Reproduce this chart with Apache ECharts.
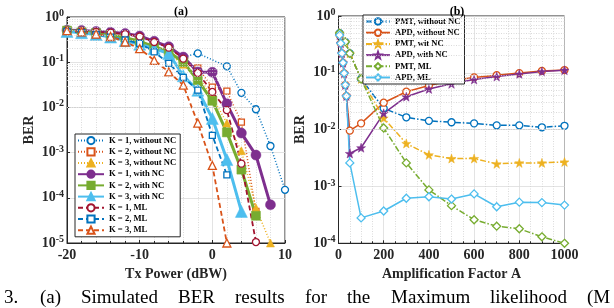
<!DOCTYPE html>
<html>
<head>
<meta charset="utf-8">
<script src="https://cdn.jsdelivr.net/npm/echarts@6/dist/echarts.min.js"></script>
<style>
html,body{margin:0;padding:0;background:#fff;}
#c{width:614px;height:308px;}
</style>
</head>
<body>
<div id="c"></div>
<script>
// ---------- DATA: panel (a) ----------
const txPower = [-20,-18,-16,-14,-12,-10,-8,-6,-4,-2,0,2,4,6,8,10];
const k1WithoutNC = [0.51,0.50,0.48,0.46,0.43,0.38,0.29,0.22,0.13,0.157,null,0.081,0.021,0.0091,0.0014,0.00015];
const k2WithoutNC = [0.50,0.47,0.44,0.40,0.35,0.29,0.22,0.17,0.10,0.075,0.028,0.023,0.0047,0.00005,null,null];
const k3WithoutNC = [0.49,0.46,0.42,0.38,0.32,0.26,0.20,0.15,0.09,0.05,0.017,0.0045,0.0011,0.00006,0.00001,null];
const k1WithNC = [0.51,0.50,0.48,0.46,0.43,0.38,0.29,0.22,0.13,0.061,0.060,0.012,0.0027,0.00088,0.00007,null];
const k2WithNC = [0.50,0.47,0.44,0.40,0.35,0.29,0.22,0.17,0.10,0.04,0.014,0.0028,0.00042,0.00004,null,null];
const k3WithNC = [0.48,0.45,0.41,0.36,0.30,0.25,0.20,0.156,0.05,0.024,0.0057,0.0007,0.00005,null,null,null];
const k1ML = [0.50,0.49,0.47,0.45,0.42,0.37,0.28,0.21,0.12,0.058,0.022,0.0087,0.00057,0.0000105,null,null];
const k2ML = [0.48,0.45,0.41,0.36,0.31,0.26,0.17,0.094,0.046,0.024,0.0024,0.00032,null,null,null,null];
const k3ML = [0.50,0.47,0.42,0.37,0.28,0.20,0.11,0.061,0.031,0.0045,0.00052,0.00001,null,null,null,null];
const namesA = ['K = 1, without NC','K = 2, without NC','K = 3, without NC','K = 1, with NC','K = 2, with NC','K = 3, with NC','K = 1, ML','K = 2, ML','K = 3, ML'];

// ---------- DATA: panel (b) ----------
const ampPMT = [5,30,50,100,200,300,400,500,600,700,800,900,1000];
const pmtWithoutNC = [0.50,0.35,0.22,0.078,0.0237,0.0165,0.0143,0.0135,0.0129,0.0119,0.0119,0.011,0.0117];
const pmtWithNC = [0.50,0.35,0.22,0.078,0.016,0.0057,0.0036,0.0031,0.0031,0.0025,0.0026,0.0026,0.0027];
const pmtML = [0.50,0.35,0.22,0.078,0.0107,0.0026,0.00087,0.00046,0.00026,0.0002,0.00018,0.00013,0.0001];
const ampAPD = [5,10,15,20,25,30,35,50,100,200,300,400,500,600,700,800,900,1000];
const apdWithoutNC = [0.46,0.33,0.22,0.15,0.098,0.061,0.039,0.0096,0.0129,0.0298,0.0465,0.06,0.073,0.083,0.091,0.099,0.108,0.112];
const apdWithNC = [0.46,0.33,0.22,0.15,0.098,0.061,0.039,0.0038,0.0048,0.0194,0.038,0.052,0.064,0.076,0.086,0.095,0.105,0.111];
const apdML = [0.46,0.33,0.22,0.15,0.098,0.061,0.039,0.0026,0.00028,0.00037,0.00062,0.00066,0.0006,0.00074,0.00044,0.00053,0.00052,0.00047];
const namesB = ['PMT, without NC','APD, without NC','PMT, wit NC','APD, with NC','PMT, ML','APD, ML'];

// ---------- helpers ----------
const C = {blue:'#0072BD', orange:'#D95319', yellow:'#EDB120', purple:'#7E2F8E', green:'#77AC30', cyan:'#4DBEEE', red:'#A2142F'};
const FONT = 'Liberation Serif';
function pairs(xs, ys){ const out=[]; for(let i=0;i<xs.length;i++){ if(ys[i]!=null) out.push([xs[i],ys[i]]);} return out; }
function minorVals(lo, hi){ const v=[]; for(let e=lo;e<hi;e++){ for(let m=2;m<=9;m++) v.push(m*Math.pow(10,e)); } return v; }
const DOT=[1,2], DASH=[5,3], DASHDOT=[6,2,1.5,2];
const STAR='path://M0,-10L2.35,-3.24L9.51,-3.09L3.8,1.24L5.88,8.09L0,4L-5.88,8.09L-3.8,1.24L-9.51,-3.09L-2.35,-3.24Z';
function ln(name, gi, data, color, dash, width, symbol, size, filled){
  return {
    name, type:'line', xAxisIndex:gi, yAxisIndex:gi, data,
    symbol, symbolSize:size, showSymbol:true,
    lineStyle:{color, width, type:dash},
    itemStyle:{color: filled ? color : '#fff', borderColor:color, borderWidth: filled?0.5:1.3},
    connectNulls:true, animation:false, z:3
  };
}
function gridSeries(gi, lo, hi){
  return {type:'line', xAxisIndex:gi, yAxisIndex:gi, data:[], silent:true, z:1,
    markLine:{silent:true, symbol:'none', animation:false, label:{show:false},
      lineStyle:{color:'#d0d0d0', type:[1,1.5], width:0.8},
      data: minorVals(lo,hi).map(v=>({yAxis:v}))}};
}
const supLabel = {
  fontFamily: FONT, color:'#262626',
  formatter: v => '{b|10}{s|' + Math.round(Math.log10(v)) + '}',
  rich:{ b:{fontSize:14, fontWeight:'bold', fontFamily:FONT, color:'#262626'},
         s:{fontSize:10, fontWeight:'bold', fontFamily:FONT, color:'#262626', verticalAlign:'top', padding:[0,0,7,0]} }
};
const axLine = {show:true, onZero:false, lineStyle:{color:'#262626', width:1}};
const tick = {show:true, inside:true, length:3, lineStyle:{color:'#262626'}};
const splitL = {show:true, lineStyle:{color:'#dcdcdc', width:0.8}};
const minorSplit = {show:true, lineStyle:{color:'#d0d0d0', type:[1,1.5], width:0.8}};
const xLab = {fontSize:14, fontWeight:'bold', color:'#262626', margin:5, fontFamily:FONT, formatter: v => String(v)};
const nameStyle = {fontSize:14, fontWeight:'bold', color:'#262626', fontFamily:FONT};

const chart = echarts.init(document.getElementById('c'));
const option = {
  animation:false,
  backgroundColor:'#fff',
  textStyle:{fontFamily:FONT},
  grid:[
    {left:67, top:17, width:218, height:226, show:true, borderColor:'#262626', borderWidth:1, backgroundColor:'transparent'},
    {left:338.5, top:16, width:226, height:227.3, show:true, borderColor:'#262626', borderWidth:1, backgroundColor:'transparent'}
  ],
  xAxis:[
    {type:'value', gridIndex:0, min:-20, max:10, interval:10,
     axisLine:axLine, axisTick:tick, axisLabel:xLab,
     splitLine:splitL, minorTick:{show:true, splitNumber:5, length:2, lineStyle:{color:'#262626'}}, minorSplitLine:minorSplit,
     name:'Tx Power (dBW)', nameLocation:'middle', nameGap:23, nameTextStyle:nameStyle},
    {type:'value', gridIndex:1, min:0, max:1000, interval:200,
     axisLine:axLine, axisTick:tick, axisLabel:xLab,
     splitLine:splitL, minorTick:{show:true, splitNumber:4, length:2, lineStyle:{color:'#262626'}}, minorSplitLine:minorSplit,
     name:'Amplification Factor A', nameLocation:'middle', nameGap:23, nameTextStyle:nameStyle}
  ],
  yAxis:[
    {type:'log', logBase:10, gridIndex:0, min:1e-5, max:1,
     axisLine:axLine, axisTick:tick,
     axisLabel:Object.assign({margin:3}, supLabel), splitLine:splitL,
     name:'BER', nameLocation:'middle', nameGap:31, nameTextStyle:nameStyle},
    {type:'log', logBase:10, gridIndex:1, min:1e-4, max:1,
     axisLine:axLine, axisTick:tick,
     axisLabel:Object.assign({margin:3}, supLabel), splitLine:splitL,
     name:'BER', nameLocation:'middle', nameGap:31, nameTextStyle:nameStyle}
  ],
  legend:[
    {data:namesA, orient:'vertical', left:75, top:134, itemWidth:26, itemHeight:9, itemGap:2,
     padding:[2,4,2,2], borderColor:'#262626', borderWidth:1, backgroundColor:'#fff',
     textStyle:{fontSize:8.6, fontWeight:'bold', fontFamily:FONT, color:'#000', lineHeight:9}},
    {data:namesB, orient:'vertical', left:363, top:15, itemWidth:24, itemHeight:8, itemGap:2.2,
     padding:[2,4,2,2], borderColor:'#262626', borderWidth:1, backgroundColor:'#fff',
     textStyle:{fontSize:8.6, fontWeight:'bold', fontFamily:FONT, color:'#000', lineHeight:8}}
  ],
  title:[
    {text:'(a)', left:176, top:1, textAlign:'center', textStyle:{fontSize:12, fontWeight:'bold', fontFamily:FONT, color:'#000'}},
    {text:'(b)', left:452, top:1, textAlign:'center', textStyle:{fontSize:12, fontWeight:'bold', fontFamily:FONT, color:'#000'}}
  ],
  series:[
    gridSeries(0,-5,0),
    gridSeries(1,-4,0),
    ln(namesA[0],0,pairs(txPower,k1WithoutNC),C.blue,DOT,1.5,'circle',7,false),
    ln(namesA[1],0,pairs(txPower,k2WithoutNC),C.orange,DOT,1.5,'rect',6,false),
    ln(namesA[2],0,pairs(txPower,k3WithoutNC),C.yellow,DOT,1.5,'triangle',8,true),
    ln(namesA[3],0,pairs(txPower,k1WithNC),C.purple,'solid',3,'circle',10,true),
    ln(namesA[4],0,pairs(txPower,k2WithNC),C.green,'solid',3,'rect',9,true),
    ln(namesA[5],0,pairs(txPower,k3WithNC),C.cyan,'solid',3,'triangle',12,true),
    ln(namesA[6],0,pairs(txPower,k1ML),C.red,DASH,1.8,'circle',7,false),
    ln(namesA[7],0,pairs(txPower,k2ML),C.blue,DASH,1.8,'rect',6,false),
    ln(namesA[8],0,pairs(txPower,k3ML),C.orange,DASH,1.8,'triangle',8,false),
    ln(namesB[0],1,pairs(ampPMT,pmtWithoutNC),C.blue,DASHDOT,1.5,'circle',7,false),
    ln(namesB[1],1,pairs(ampAPD,apdWithoutNC),C.orange,'solid',1.5,'circle',7,false),
    ln(namesB[2],1,pairs(ampPMT,pmtWithNC),C.yellow,DASHDOT,1.5,STAR,9,true),
    ln(namesB[3],1,pairs(ampAPD,apdWithNC),C.purple,'solid',1.5,STAR,9,true),
    ln(namesB[4],1,pairs(ampPMT,pmtML),C.green,DASHDOT,1.5,'diamond',8,false),
    ln(namesB[5],1,pairs(ampAPD,apdML),C.cyan,'solid',1.5,'diamond',8,false)
  ],
  graphic:[]
};
// caption fragment at bottom (justified line of the figure caption, cut by the image edge)
const capWords = [['3.',4],['(a)',40],['Simulated',81],['BER',178],['results',235],['for',305],['the',347],['Maximum',391],['likelihood',490],['(M',587]];
capWords.forEach(w=>option.graphic.push({type:'text', left:w[1], top:289, style:{text:w[0], font:'19px "Liberation Serif"', fill:'#000'}}));
chart.setOption(option);
</script>
</body>
</html>
